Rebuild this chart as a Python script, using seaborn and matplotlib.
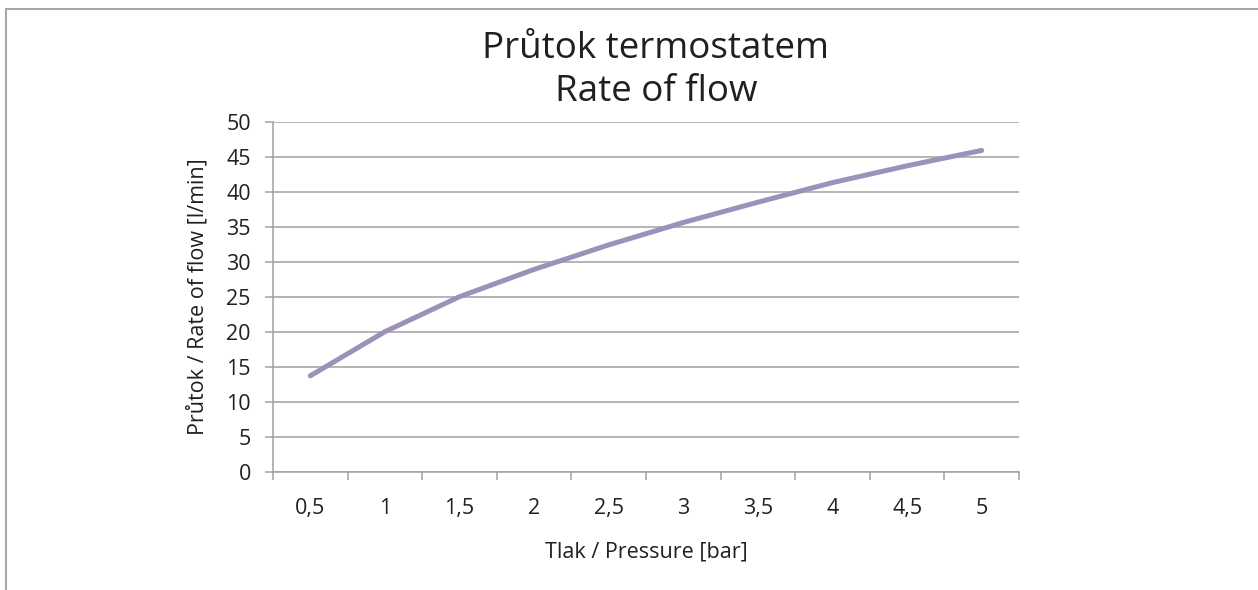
import matplotlib.pyplot as plt
import matplotlib.patches as mpatches
import pandas as pd
import seaborn as sns

# Data
pressure_labels = ['0,5', '1', '1,5', '2', '2,5', '3', '3,5', '4', '4,5', '5']
flow_rate = [13.7, 20.0, 25.0, 28.9, 32.4, 35.6, 38.5, 41.3, 43.7, 45.9]

title_lines = ['Průtok termostatem', 'Rate of flow']
x_title = 'Tlak / Pressure [bar]'
y_title = 'Průtok / Rate of flow [l/min]'

df = pd.DataFrame({'pressure': pressure_labels, 'flow': flow_rate})

sns.set_style('white')
plt.rcParams['font.family'] = ['Open Sans', 'DejaVu Sans']

grey = '#a0a0a0'
text_col = '#231f20'

fig = plt.figure(figsize=(12.58, 5.9), dpi=100)
ax = fig.add_axes([273 / 1258, 118.3 / 590, 746 / 1258, 350 / 590])

sns.lineplot(data=df, x='pressure', y='flow', ax=ax, color='#9d90b9',
             linewidth=3.6, sort=False, solid_capstyle='round')

ax.set_xlim(-0.5, len(pressure_labels) - 0.5)
ax.set_ylim(0, 50)
ax.set_yticks(range(0, 51, 5))
ax.yaxis.grid(True, color=grey, linewidth=1.1)
ax.xaxis.grid(False)

# category labels at centres (short ticks), longer ticks at category edges
ax.set_xticks(range(len(pressure_labels)))
ax.set_xticklabels(pressure_labels)
ax.set_xticks([i - 0.5 for i in range(len(pressure_labels) + 1)], minor=True)
ax.tick_params(axis='x', which='major', direction='out', length=4, width=1.1,
               color=grey, labelsize=15.5, labelcolor=text_col, pad=15)
ax.tick_params(axis='x', which='minor', direction='out', length=6, width=1.1,
               color=grey, bottom=True)
ax.tick_params(axis='y', which='major', direction='out', length=6, width=1.1,
               color=grey, labelsize=15.5, labelcolor=text_col, pad=10, left=True)

for side in ['top', 'right']:
    ax.spines[side].set_visible(False)
for side in ['left', 'bottom']:
    ax.spines[side].set_color(grey)
    ax.spines[side].set_linewidth(1.1)

ax.set_xlabel(x_title, fontsize=15.5, color=text_col, labelpad=16)
ax.set_ylabel(y_title, fontsize=15.5, color=text_col, labelpad=13)

fig.text(656 / 1258, 1 - 49 / 590, title_lines[0], ha='center', va='center',
         fontsize=26.5, color=text_col)
fig.text(656 / 1258, 1 - 92 / 590, title_lines[1], ha='center', va='center',
         fontsize=26.5, color=text_col)

# outer chart frame (bottom edge lies outside the image)
frame = mpatches.Rectangle((6.5 / 1258, -0.1), 1260 / 1258, 1.1 - 8.5 / 590,
                           transform=fig.transFigure, fill=False,
                           edgecolor='#a6a6a6', linewidth=1.5, clip_on=False)
fig.patches.append(frame)

fig.savefig('out.png', dpi=100)
